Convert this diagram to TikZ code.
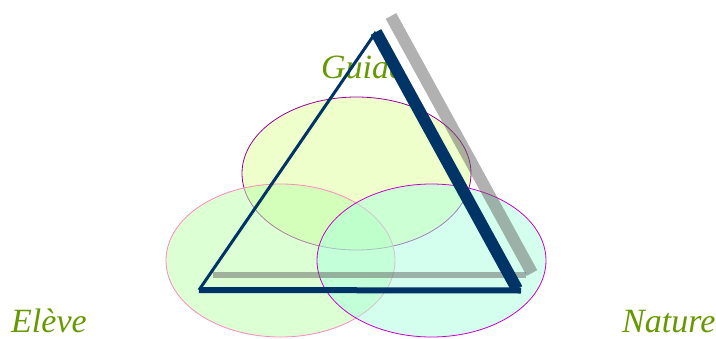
\documentclass[tikz,border=0pt]{standalone}
\usepackage{fontspec}
\setmainfont{Liberation Serif}
\definecolor{navyline}{RGB}{0,51,102}
\definecolor{leafgreen}{RGB}{102,153,0}
\definecolor{guideedge}{RGB}{153,0,153}
\definecolor{guidefill}{RGB}{221,255,153}
\definecolor{elevedge}{RGB}{255,136,187}
\definecolor{elevfill}{RGB}{187,255,170}
\definecolor{natedge}{RGB}{204,0,204}
\definecolor{natfill}{RGB}{170,255,221}
\definecolor{shadowgray}{RGB}{100,100,100}
\usetikzlibrary{shapes.geometric,calc}

\begin{document}
\begin{tikzpicture}[x=1pt,y=-1pt,
  label/.style={font=\fontsize{34}{36}\selectfont\itshape,text=leafgreen,
                anchor=base west,inner sep=0pt,text depth=0pt},
  zone/.style={ellipse,minimum width=229pt,minimum height=153pt,
               inner sep=0pt,line width=0.8pt,fill opacity=0.5},
  shadowline/.style={draw=shadowgray,draw opacity=0.5,line cap=butt},
  edge/.style={draw=navyline,line join=miter}
]
  \useasboundingbox (0,0) rectangle (716,338);

  % labels
  \node[label] (guide)  at (321,78)  {Guide};
  \node[label] (eleve)  at (11,332)  {Elève};
  \node[label] (nature) at (622,332) {Nature};

  % corners of the triangle and of its shadow
  \coordinate (top)   at (376,32);
  \coordinate (left)  at (199,290);
  \coordinate (right) at (517,289);
  \coordinate (stop)  at (391,16);
  \coordinate (sright) at (532,273);
  \coordinate (sleft) at (213,274.5);

  % white gap between the side and its shadow
  \draw[white,line width=22pt] ($(top)+(6,0)$) -- ($(top)!0.28!(right)+(6,0)$);

  % the three zones
  \node[zone,draw=guideedge,fill=guidefill] (zguide)  at (356.5,173.5) {};
  \node[zone,draw=elevedge,fill=elevfill]   (zeleve)  at (280.5,260.5) {};
  \node[zone,draw=natedge,fill=natfill]     (znature) at (431.5,260.5) {};

  % shadow
  \draw[shadowline,line width=12pt] (stop) -- (sright);
  \draw[shadowline,line width=6pt] (sleft) -- ($(sright)+(-6,1.5)$);

  % triangle
  \draw[edge,line width=3pt] (left) -- (top);
  \draw[edge,line width=12pt] (top) -- (right);
  \draw[edge,line width=6pt] (left) -- ($(right)+(4,1.5)$);
\end{tikzpicture}
\end{document}
